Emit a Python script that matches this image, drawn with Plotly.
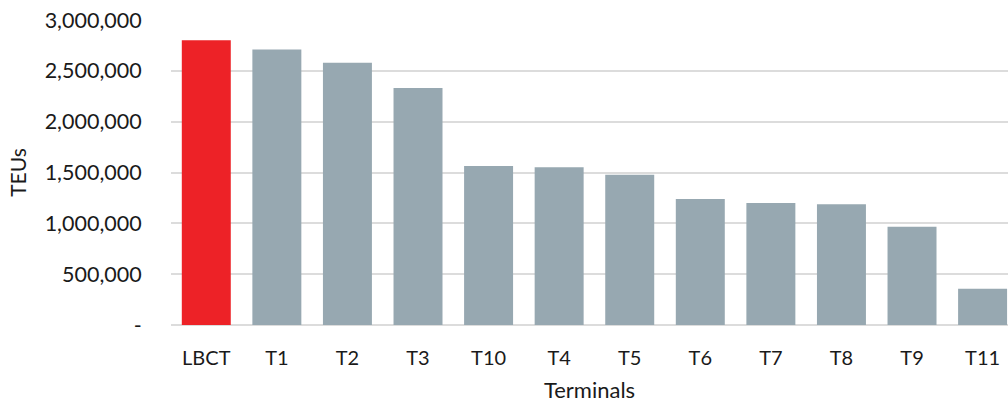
import plotly.graph_objects as go

# Annual container throughput per terminal
terminals = ["LBCT", "T1", "T2", "T3", "T10", "T4", "T5", "T6", "T7", "T8", "T9", "T11"]
teus = [2800000, 2710000, 2580000, 2330000, 1564000, 1551000, 1478000,
        1239000, 1200000, 1187000, 967000, 357000]
highlight = "LBCT"

y_tick_values = [0, 500000, 1000000, 1500000, 2000000, 2500000, 3000000]
y_tick_labels = ["-", "500,000", "1,000,000", "1,500,000", "2,000,000", "2,500,000", "3,000,000"]

RED = "#ED2227"
GREY = "#97A8B1"
GRID = "#DCDCDC"
TEXT = "#1A1A1A"

bar_colors = [RED if t == highlight else GREY for t in terminals]

fig = go.Figure(
    go.Bar(
        x=terminals,
        y=teus,
        marker=dict(color=bar_colors, line=dict(width=0)),
        hovertemplate="%{x}: %{y:,}<extra></extra>",
    )
)

fig.update_layout(
    width=1008,
    height=407,
    margin=dict(l=171, r=0, t=20, b=82),
    paper_bgcolor="white",
    plot_bgcolor="white",
    bargap=0.306,
    showlegend=False,
    font=dict(family="Lato, Carlito, sans-serif", size=20, color=TEXT),
)

fig.update_xaxes(
    range=[-0.5, 11.36],
    showgrid=False,
    showline=False,
    ticks="outside",
    ticklen=15,
    tickcolor="rgba(0,0,0,0)",
    tickfont=dict(size=20, color=TEXT),
    title=dict(text="Terminals", font=dict(size=22, color=TEXT), standoff=14),
)

fig.update_yaxes(
    range=[0, 3000000],
    tickmode="array",
    tickvals=y_tick_values,
    ticktext=y_tick_labels,
    showgrid=True,
    gridcolor=GRID,
    gridwidth=1.5,
    zeroline=True,
    zerolinecolor=GRID,
    zerolinewidth=1.5,
    showline=False,
    ticks="outside",
    ticklen=24,
    tickcolor="rgba(0,0,0,0)",
    tickfont=dict(size=21.5, color=TEXT),
    title=dict(text="TEUs", font=dict(size=21, color=TEXT), standoff=12),
)

fig.write_html("out.html")
